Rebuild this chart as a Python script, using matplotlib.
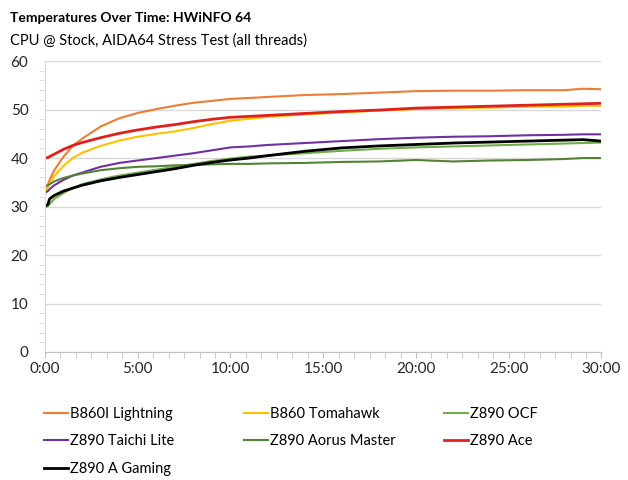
import numpy as np
import matplotlib
matplotlib.use("Agg")
import matplotlib.pyplot as plt
from matplotlib.ticker import MultipleLocator, FuncFormatter

plt.rcParams['font.family'] = ['Lato', 'DejaVu Sans']

# sample times in minutes
t_min = [0, 0.15, 0.25, 0.5, 1, 1.5, 2, 3, 4, 5, 6, 7, 8, 9, 10, 11, 12, 14, 16, 18, 20, 22, 24, 26, 28, 29, 30]

lightning = [33.5, 34.5, 35.5, 37.5, 40.3, 42.5, 44.0, 46.5, 48.2, 49.3, 50.1, 50.8, 51.4, 51.8, 52.2, 52.4, 52.6, 53.0, 53.2, 53.5, 53.8, 53.9, 53.9, 54.0, 54.0, 54.3, 54.2]
tomahawk = [33.0, 34.0, 34.8, 36.3, 38.4, 40.0, 41.1, 42.5, 43.6, 44.4, 45.0, 45.5, 46.2, 47.0, 47.7, 48.1, 48.5, 49.0, 49.4, 49.8, 50.1, 50.3, 50.4, 50.6, 50.6, 50.8, 50.8]
ocf = [29.8, 30.1, 30.5, 31.6, 32.8, 33.8, 34.6, 35.6, 36.4, 37.0, 37.6, 38.2, 38.8, 39.4, 39.9, 40.3, 40.5, 41.0, 41.5, 41.9, 42.2, 42.4, 42.6, 42.8, 43.0, 43.1, 43.2]
taichi = [32.8, 33.2, 33.6, 34.4, 35.5, 36.4, 37.0, 38.2, 39.0, 39.5, 40.0, 40.5, 41.0, 41.6, 42.2, 42.4, 42.7, 43.1, 43.5, 43.9, 44.2, 44.4, 44.5, 44.7, 44.8, 44.9, 44.9]
aorus = [34.2, 34.4, 34.6, 35.2, 35.9, 36.4, 36.8, 37.5, 37.9, 38.2, 38.3, 38.5, 38.6, 38.7, 38.8, 38.8, 38.9, 39.0, 39.2, 39.3, 39.6, 39.3, 39.5, 39.6, 39.8, 40.0, 40.0]
ace = [40.0, 40.1, 40.3, 40.8, 41.8, 42.6, 43.2, 44.2, 45.1, 45.8, 46.4, 46.9, 47.5, 48.0, 48.4, 48.6, 48.8, 49.2, 49.6, 49.9, 50.3, 50.5, 50.7, 50.9, 51.1, 51.2, 51.3]
a_gaming = [30.1, 30.4, 31.6, 32.3, 33.2, 33.8, 34.4, 35.3, 36.0, 36.6, 37.2, 37.8, 38.5, 39.1, 39.6, 40.0, 40.5, 41.4, 42.1, 42.5, 42.8, 43.1, 43.3, 43.5, 43.7, 43.8, 43.5]

labels = ['B860I Lightning', 'B860 Tomahawk', 'Z890 OCF', 'Z890 Taichi Lite',
          'Z890 Aorus Master', 'Z890 Ace', 'Z890 A Gaming']
series = [lightning, tomahawk, ocf, taichi, aorus, ace, a_gaming]
colors = ['#ED7D31', '#FFC000', '#70AD47', '#7030A0', '#548235', '#E0201B', '#000000']
widths = [1.5, 1.5, 1.5, 1.5, 1.5, 2.0, 2.0]

t_sec = np.array(t_min) * 60

fig = plt.figure(figsize=(6.28, 4.8), dpi=100)
ax = fig.add_axes([0.0717, 0.2667, 0.886, 0.606])

handles = []
for vals, lab, c, w in zip(series, labels, colors, widths):
    h, = ax.plot(t_sec, vals, color=c, lw=w, label=lab)
    handles.append(h)

ax.set_xlim(0, 1800)
ax.set_ylim(0, 60)
ax.xaxis.set_major_locator(MultipleLocator(300))
ax.xaxis.set_minor_locator(MultipleLocator(50))
ax.yaxis.set_major_locator(MultipleLocator(10))
ax.yaxis.set_minor_locator(MultipleLocator(2))
ax.xaxis.set_major_formatter(FuncFormatter(lambda v, p: '%d:%02d' % (v // 60, v % 60)))

ax.grid(axis='y', which='major', color='#D9D9D9', lw=1)
ax.set_axisbelow(True)
for s in ['top', 'right']:
    ax.spines[s].set_visible(False)
ax.spines['left'].set_color('#D9D9D9')
ax.spines['bottom'].set_color('#BFBFBF')
ax.tick_params(axis='y', which='major', length=0, labelsize=11, colors='#262626', pad=12)
ax.tick_params(axis='y', which='minor', length=4, color='#D9D9D9')
ax.tick_params(axis='x', which='both', length=4, color='#BFBFBF', labelsize=11, labelcolor='#262626')

fig.text(0.016, 0.962, 'Temperatures Over Time: HWiNFO 64', fontsize=10, fontweight='bold', va='center')
fig.text(0.016, 0.915, 'CPU @ Stock, AIDA64 Stress Test (all threads)', fontsize=10.5, va='center')

# one legend per column, rows read left to right as in the original
columns = [[0, 3, 6], [1, 4], [2, 5]]
col_x = [0.06, 0.3785, 0.697]
for idx, x in zip(columns, col_x):
    lg = fig.legend([handles[i] for i in idx], [labels[i] for i in idx],
                    ncol=1, frameon=False, loc='upper left', bbox_to_anchor=(x, 0.165),
                    fontsize=10.5, handlelength=1.7, handletextpad=0.1,
                    labelspacing=0.93, borderaxespad=0)

fig.savefig('out.png', dpi=100)
